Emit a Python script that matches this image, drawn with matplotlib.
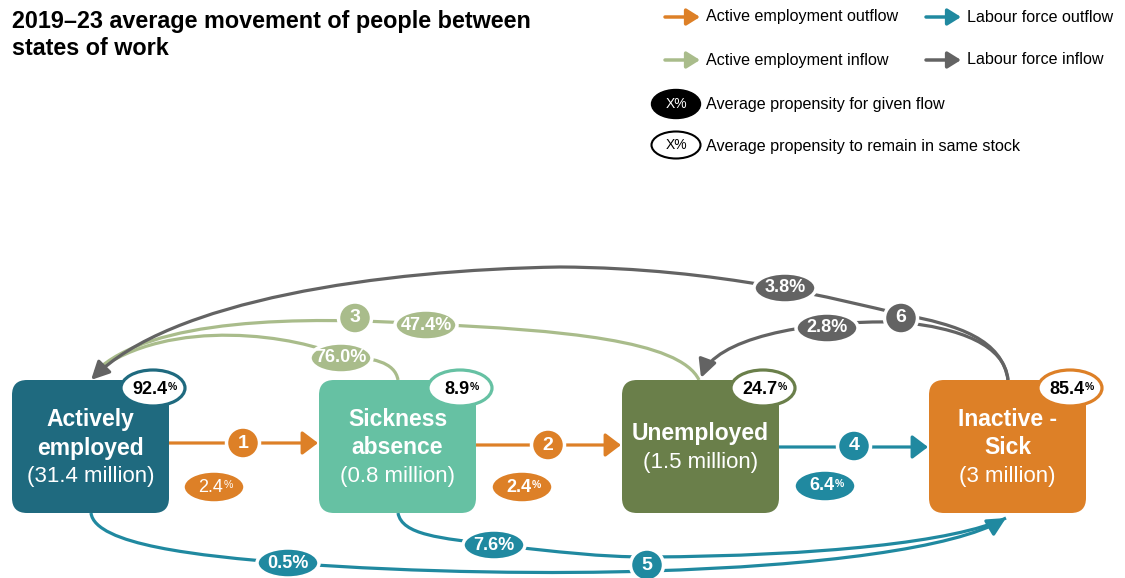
import matplotlib
matplotlib.use("Agg")
import matplotlib.pyplot as plt
from matplotlib.patches import FancyBboxPatch, Ellipse, FancyArrowPatch
from matplotlib.path import Path

plt.rcParams['font.family'] = ['Liberation Sans', 'DejaVu Sans']

# --- data -------------------------------------------------------------
states = ["Actively\nemployed", "Sickness\nabsence", "Unemployed", "Inactive -\nSick"]
stock_millions = ["31.4", "0.8", "1.5", "3"]
stay_pct = ["92.4", "8.9", "24.7", "85.4"]

# transitions between states (index into states)
trans_from = [0, 1, 1, 2, 2, 0, 1, 3, 3]
trans_to = [1, 2, 0, 0, 3, 3, 3, 0, 2]
trans_pct = ["2.4", "2.4", "76.0", "47.4", "6.4", "0.5", "7.6", "3.8", "2.8"]
trans_flow = [1, 2, 3, 3, 4, 5, 5, 6, 6]

flow_kind = {1: "Active employment outflow", 2: "Active employment outflow",
             3: "Active employment inflow", 4: "Labour force outflow",
             5: "Labour force outflow", 6: "Labour force inflow"}

# --- style / layout ---------------------------------------------------
box_cols = ["#1F6A7F", "#66C1A3", "#6A7F4A", "#DD8027"]
kind_cols = {"Active employment outflow": "#DD8027",
             "Labour force outflow": "#2089A0",
             "Active employment inflow": "#A9BC8B",
             "Labour force inflow": "#636363"}

box_x = [12, 319, 622, 929]
box_w = 157
box_top, box_h = 380, 133

fig = plt.figure(figsize=(11.25, 5.78), dpi=100)
ax = fig.add_axes([0, 0, 1, 1])
ax.set_xlim(0, 1125)
ax.set_ylim(578, 0)
ax.axis('off')


def curve(pts):
    codes = [Path.MOVETO] + [Path.CURVE4] * (len(pts) - 1)
    return Path(pts, codes)


def draw_path(pts, color, head=True):
    style = '-|>,head_length=1.1,head_width=0.55' if head else '-'
    ax.add_patch(FancyArrowPatch(path=curve(pts), arrowstyle=style, mutation_scale=10,
                                 color=color, lw=2.3, capstyle='butt', zorder=2))


def pct_text(x, y, val, color, size, bold=True, small_pct=False):
    w = 'bold' if bold else 'normal'
    if small_pct:
        t = ax.text(x - 3, y, val, ha='center', va='center', fontsize=size,
                    color=color, fontweight=w, zorder=6)
        ax.annotate('%', xy=(1.0, 0.92), xycoords=t, ha='left', va='top',
                    fontsize=size * 0.58, color=color, fontweight=w, zorder=6)
    else:
        ax.text(x, y, val + '%', ha='center', va='center', fontsize=size,
                color=color, fontweight=w, zorder=6)


# curve geometry (pixel positions)
geom = {
    2: [(398, 380), (395, 362), (372, 357), (342, 357),
        (300, 336), (170, 315), (95, 372)],
    3: [(699, 380), (680, 340), (560, 330), (426, 324),
        (300, 316), (150, 318), (95, 372)],
    5: [(91, 513), (95, 545), (200, 556), (287, 563),
        (420, 573), (560, 574), (648, 571),
        (820, 566), (955, 548), (1006, 518)],
    6: [(398, 513), (402, 535), (440, 538), (495, 545),
        (560, 552), (600, 557), (648, 557),
        (820, 556), (955, 542), (1006, 518)],
    7: [(1008, 380), (1002, 340), (960, 325), (900, 314),
        (840, 300), (720, 268), (560, 267),
        (380, 270), (170, 300), (91, 380)],
    8: [(1008, 380), (1005, 345), (960, 328), (900, 322),
        (800, 320), (715, 340), (701, 378)],
}
label_pos = {0: (214, 487), 1: (522, 487), 2: (341, 358), 3: (426, 325),
             4: (825, 486), 5: (288, 563), 6: (494, 545), 7: (785, 288), 8: (827, 328)}
flow_num_pos = {1: (243, 443), 2: (548, 445), 3: (355, 318),
                4: (854, 446), 5: (647, 565), 6: (901, 318)}
straight_y = {0: 443, 1: 445, 4: 447}

# draw transitions
for i, (a, b, f) in enumerate(zip(trans_from, trans_to, trans_flow)):
    col = kind_cols[flow_kind[f]]
    if i in straight_y:
        y = straight_y[i]
        ax.add_patch(FancyArrowPatch((box_x[a] + box_w, y), (box_x[b] - 1, y),
                                     arrowstyle='-|>,head_length=0.95,head_width=0.72',
                                     mutation_scale=10, color=col, lw=2.3,
                                     shrinkA=0, shrinkB=0, zorder=2))
    else:
        draw_path(geom[i], col, head=(i in (5, 7, 8)))
    lx, ly = label_pos[i]
    h = 32 if i in straight_y else 30
    ax.add_patch(Ellipse((lx, ly), 62, h, facecolor=col, edgecolor='white', lw=2.5, zorder=5))
    pct_text(lx, ly, trans_pct[i], 'white', 13, bold=(i != 0), small_pct=(i in (0, 1, 4)))

for f, (x, y) in flow_num_pos.items():
    col = kind_cols[flow_kind[f]]
    ax.add_patch(Ellipse((x, y), 33, 32, facecolor=col, edgecolor='white', lw=2.5, zorder=5))
    ax.text(x, y, str(f), ha='center', va='center', fontsize=14, fontweight='bold',
            color='white', zorder=6)

# state boxes
for i, name in enumerate(states):
    ax.add_patch(FancyBboxPatch((box_x[i], box_top), box_w, box_h,
                                boxstyle="round,pad=0,rounding_size=15",
                                facecolor=box_cols[i], edgecolor='none', zorder=3))
    lines = name.split("\n") + ["(" + stock_millions[i] + " million)"]
    n = len(lines)
    cx = box_x[i] + box_w / 2
    for j, ln in enumerate(lines):
        y = 448 + (j - (n - 1) / 2) * 28.5
        bold = j < n - 1
        ax.text(cx, y, ln, ha='center', va='center', color='white',
                fontsize=16.5 if bold else 16, fontweight='bold' if bold else 'normal',
                zorder=4)
    ex = box_x[i] + box_w - 16
    ax.add_patch(Ellipse((ex, 388), 64, 36, facecolor='white', edgecolor=box_cols[i],
                         lw=2.3, zorder=5))
    pct_text(ex, 389, stay_pct[i], 'black', 13, bold=True, small_pct=True)

# title
ax.text(12, 10, "2019\u201323 average movement of people between\nstates of work",
        ha='left', va='top', fontsize=16.8, fontweight='bold', color='black',
        linespacing=1.22)

# legend
leg = [("Active employment outflow", 665, 17), ("Labour force outflow", 926, 17),
       ("Active employment inflow", 665, 60), ("Labour force inflow", 926, 60)]
for kind, x, y in leg:
    ax.add_patch(FancyArrowPatch((x, y), (x + 35, y),
                                 arrowstyle='-|>,head_length=0.8,head_width=0.5',
                                 mutation_scale=10, color=kind_cols[kind], lw=2.5,
                                 shrinkA=0, shrinkB=0))
    ax.text(x + 41, y, kind, ha='left', va='center', fontsize=11.6, color='black')

ax.add_patch(Ellipse((676, 104), 49, 29, facecolor='black', edgecolor='black', lw=1))
ax.text(676, 104, "X%", ha='center', va='center', fontsize=10, color='white')
ax.text(706, 104, "Average propensity for given flow", ha='left', va='center',
        fontsize=11.6, color='black')
ax.add_patch(Ellipse((676, 145), 49, 27, facecolor='white', edgecolor='black', lw=1.5))
ax.text(676, 145, "X%", ha='center', va='center', fontsize=10, color='black')
ax.text(706, 146, "Average propensity to remain in same stock", ha='left', va='center',
        fontsize=11.6, color='black')

fig.savefig("out.png", dpi=100)
